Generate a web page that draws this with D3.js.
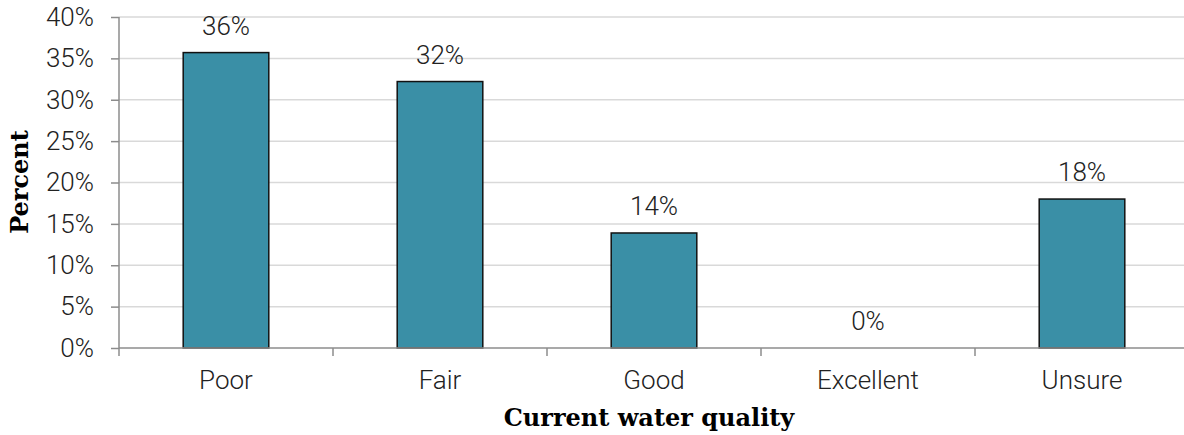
<!DOCTYPE html>
<html>
<head>
<meta charset="utf-8">
<script src="https://cdn.jsdelivr.net/npm/d3@7"></script>
<style>
  html, body { margin: 0; padding: 0; background: #fff; }
  svg { display: block; }
</style>
</head>
<body>
<svg id="chart" width="1184" height="435"></svg>
<script>
// Survey responses: perceived current water quality
const categories = ["Poor", "Fair", "Good", "Excellent", "Unsure"];
const percents = [35.7, 32.2, 13.9, 0, 18.0];
const yTicks = [0, 5, 10, 15, 20, 25, 30, 35, 40];

const width = 1184, height = 435;
const margin = { top: 17, right: -5, bottom: 87, left: 119 };
const innerW = width - margin.left - margin.right;
const innerH = height - margin.top - margin.bottom;

const svg = d3.select("#chart");
const g = svg.append("g").attr("transform", `translate(${margin.left},${margin.top})`);

const x = d3.scaleBand().domain(categories).range([0, innerW]).paddingInner(0.6).paddingOuter(0.3);
const y = d3.scaleLinear().domain([0, 40]).range([innerH, 0]);

const tickFont = "Roboto, 'Open Sans', sans-serif";
const titleFont = "'DejaVu Serif', 'Liberation Serif', serif";
const labelSize = 26;

// horizontal gridlines
g.append("g")
  .selectAll("line")
  .data(yTicks.filter(t => t > 0))
  .join("line")
  .attr("x1", 0).attr("x2", innerW)
  .attr("y1", d => y(d)).attr("y2", d => y(d))
  .attr("stroke", "#d9d9d9")
  .attr("stroke-width", 1.5);

const rows = categories.map((c, i) => ({ c, v: percents[i] }));

// bars
g.append("g")
  .selectAll("rect")
  .data(rows)
  .join("rect")
  .attr("x", d => x(d.c))
  .attr("width", x.bandwidth())
  .attr("y", d => y(d.v))
  .attr("height", d => innerH - y(d.v))
  .attr("fill", "#3a8fa6")
  .attr("stroke", d => d.v > 0 ? "#111" : "none")
  .attr("stroke-width", 1.5);

// value labels
g.append("g")
  .selectAll("text")
  .data(rows)
  .join("text")
  .attr("x", d => x(d.c) + x.bandwidth() / 2)
  .attr("y", d => y(d.v) - 18)
  .attr("text-anchor", "middle")
  .attr("font-family", tickFont)
  .attr("font-weight", 300)
  .attr("font-size", labelSize)
  .attr("fill", "#222")
  .text(d => Math.round(d.v) + "%");

// y axis
const yAxis = g.append("g")
  .call(d3.axisLeft(y).tickValues(yTicks).tickFormat(d => d + "%").tickSize(8).tickPadding(17));
yAxis.select(".domain").attr("stroke", "#8c8c8c").attr("stroke-width", 1.5).attr("d", `M0,${innerH}V0`);
yAxis.selectAll(".tick line").attr("stroke", "#8c8c8c").attr("stroke-width", 1.5);
yAxis.selectAll(".tick text")
  .attr("font-family", tickFont).attr("font-weight", 300).attr("font-size", labelSize).attr("fill", "#222");

// x axis with tick marks at category boundaries
const xAxisG = g.append("g").attr("transform", `translate(0,${innerH})`);
xAxisG.append("line")
  .attr("x1", 0).attr("x2", innerW)
  .attr("stroke", "#8c8c8c").attr("stroke-width", 1.5);
const step = x.step();
const boundaries = d3.range(categories.length).map(i => x(categories[i]) - x.paddingInner() * step / 2);
xAxisG.selectAll("line.bound")
  .data(boundaries)
  .join("line")
  .attr("class", "bound")
  .attr("x1", d => d).attr("x2", d => d)
  .attr("y1", 0).attr("y2", 8)
  .attr("stroke", "#8c8c8c").attr("stroke-width", 1.5);
xAxisG.selectAll("text")
  .data(categories)
  .join("text")
  .attr("x", d => x(d) + x.bandwidth() / 2)
  .attr("y", 41)
  .attr("text-anchor", "middle")
  .attr("font-family", tickFont).attr("font-weight", 300).attr("font-size", labelSize).attr("fill", "#222")
  .text(d => d);

// axis titles
svg.append("text")
  .attr("x", margin.left + (width - 5 - margin.left) / 2).attr("y", 426)
  .attr("text-anchor", "middle")
  .attr("font-family", titleFont).attr("font-weight", "bold").attr("font-size", 24)
  .attr("fill", "#000")
  .text("Current water quality");

svg.append("text")
  .attr("transform", `translate(28,182) rotate(-90)`)
  .attr("text-anchor", "middle")
  .attr("font-family", titleFont).attr("font-weight", "bold").attr("font-size", 24)
  .attr("fill", "#000")
  .text("Percent");
</script>
</body>
</html>
